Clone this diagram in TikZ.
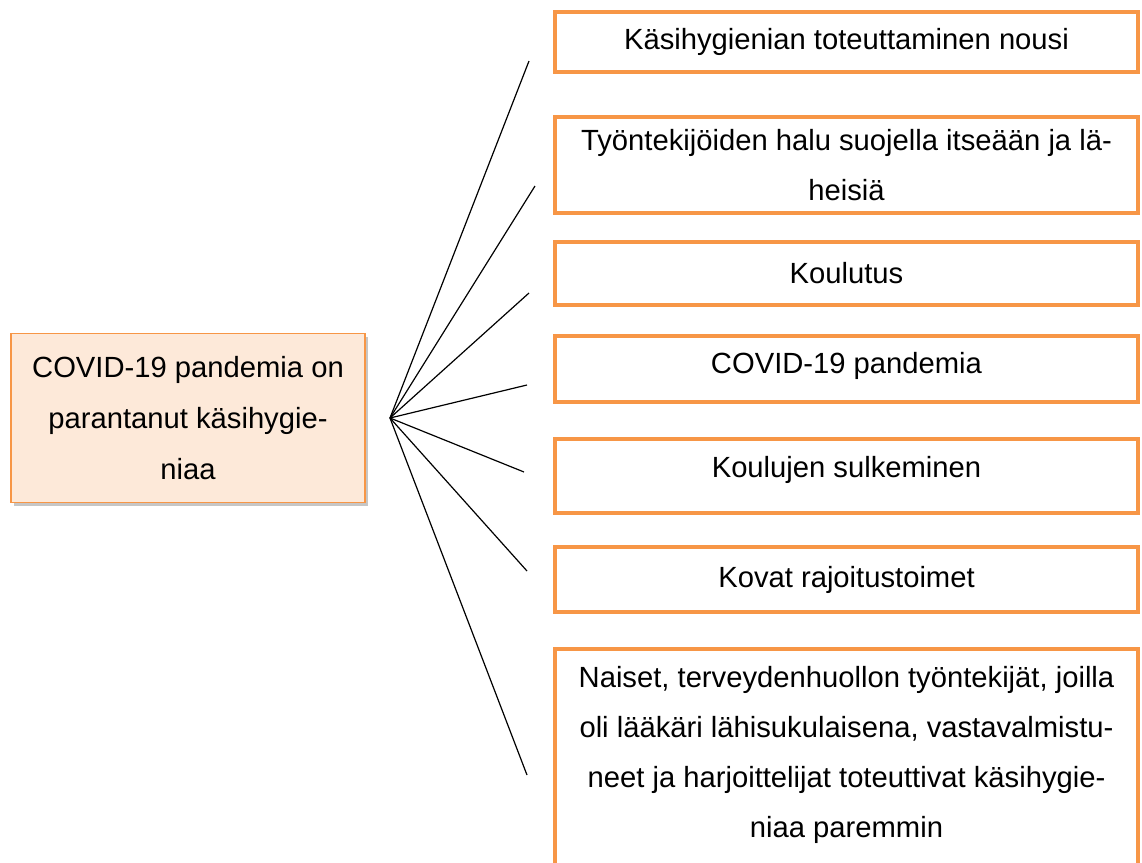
\documentclass[tikz,border=0pt]{standalone}
\usepackage{fontspec}
\setmainfont{Liberation Sans}
\usepackage{xcolor}
\usetikzlibrary{shadows}
\definecolor{accent}{HTML}{F79646}
\definecolor{peach}{HTML}{FDE9D9}

\begin{document}
\begin{tikzpicture}[
    x=0.5pt, y=-0.5pt,
    cause/.style={draw=accent, line width=2pt, fill=white, minimum width=291.5pt,
                  inner sep=0pt, align=center, anchor=north,
                  font=\fontsize{14.6}{25}\selectfont},
    result/.style={draw=accent, line width=0.9pt, fill=peach, minimum width=177pt,
                   minimum height=84.5pt, inner sep=0pt, align=center,
                   font=\fontsize{14.6}{25.5}\selectfont,
                   drop shadow={opacity=0.45, shadow xshift=1.5pt, shadow yshift=-1.5pt}},
    spoke/.style={black, line width=0.6pt},
]
\useasboundingbox (0,0) rectangle (1142,863);
\begin{scope}
\clip (0,0) rectangle (1142,863);
% Result on the left.
\node[result] (res) at (188,418) {COVID-19 pandemia on\\parantanut käsihygie-\\niaa};

% Causes on the right.
\node[cause, minimum height=30pt] (c1) at (846.5,10) {Käsihygienian toteuttaminen nousi};
\node[cause, minimum height=48pt] (c2) at (846.5,115) {Työntekijöiden halu suojella itseään ja lä-\\heisiä};
\node[cause, minimum height=31.5pt] (c3) at (846.5,240) {Koulutus};
\node[cause, minimum height=33pt, text depth=6pt] (c4) at (846.5,334) {COVID-19 pandemia};
\node[cause, minimum height=37pt, text depth=9pt] (c5) at (846.5,437) {Koulujen sulkeminen};
\node[cause, minimum height=32.5pt] (c6) at (846.5,545) {Kovat rajoitustoimet};
\node[cause, minimum height=130pt, text depth=0pt] (c7) at (846.5,647)
  {\rule{0pt}{9pt}Naiset, terveydenhuollon työntekijät, joilla\\oli lääkäri lähisukulaisena, vastavalmistu-\\neet ja harjoittelijat toteuttivat käsihygie-\\niaa paremmin\\[2pt]};
\end{scope}

% Fan of spokes.
\coordinate (hub) at (390,418);
\foreach \i/\x/\y in {1/529/61, 2/535/186, 3/529/293, 4/527/385,
                      5/524/472, 6/527/571, 7/527/775} {
  \coordinate (e\i) at (\x,\y);
  \draw[spoke] (hub) -- (e\i);
}
\end{tikzpicture}
\end{document}
